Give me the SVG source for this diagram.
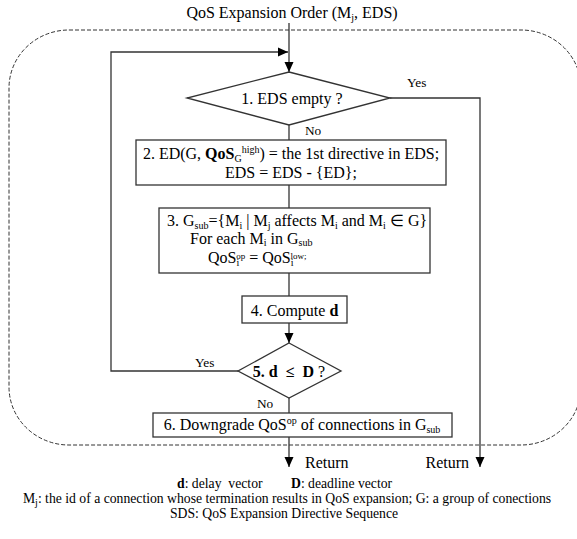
<svg xmlns="http://www.w3.org/2000/svg" width="577" height="539" viewBox="0 0 577 539">
<style>
text{font-family:"Liberation Serif","Times New Roman",serif;fill:#000;}
.t{font-size:16px;}
.s{font-size:13.3px;}
.lg{font-size:13.7px;}
.sm{font-size:10px;}
.xs{font-size:9px;}
.b{font-weight:bold;}
.box{fill:#fff;stroke:#333;stroke-width:1.3;}
.ln{fill:none;stroke:#333;stroke-width:1.3;}
.dash{fill:none;stroke:#333;stroke-width:1;stroke-dasharray:4 2;}
</style>
<defs>
<marker id="arr" markerUnits="userSpaceOnUse" markerWidth="10" markerHeight="10" viewBox="0 0 10 10" refX="10" refY="5" orient="auto">
<path d="M0,0.5 L10,5 L0,9.5 Z" fill="#000"/>
</marker>
</defs>
<rect class="dash" x="9" y="30" width="572" height="415" rx="60" ry="58"/>
<text class="t" x="292" y="18" text-anchor="middle">QoS Expansion Order (M<tspan class="sm" dy="3">j</tspan><tspan dy="-3">, EDS)</tspan></text>
<g id="connectors">
<line class="ln" x1="289" y1="23" x2="289" y2="72" marker-end="url(#arr)"/>
<polyline class="ln" points="238,371 111,371 111,52 288,52" marker-end="url(#arr)"/>
<polyline class="ln" points="390,98 480,98 480,467" marker-end="url(#arr)"/>
<line class="ln" x1="289" y1="125" x2="289" y2="140"/>
<line class="ln" x1="289" y1="185" x2="289" y2="208"/>
<line class="ln" x1="289" y1="273" x2="289" y2="296"/>
<line class="ln" x1="289" y1="323" x2="289" y2="343" marker-end="url(#arr)"/>
<line class="ln" x1="289" y1="398" x2="289" y2="413"/>
<line class="ln" x1="289" y1="437" x2="289" y2="467" marker-end="url(#arr)"/>
<text class="s" x="407" y="87">Yes</text>
<text class="s" x="305" y="135">No</text>
<text class="s" x="195" y="367">Yes</text>
<text class="s" x="257" y="408">No</text>
<text class="t" x="305" y="468">Return</text>
<text class="t" x="469" y="468" text-anchor="end">Return</text>
</g>
<g id="n1">
<polygon class="box" points="289,72 390,98 289,125 187,98"/>
<text class="t" x="292" y="104" text-anchor="middle">1. EDS empty ?</text>
</g>
<g id="n2">
<rect class="box" x="136" y="140" width="310" height="45"/>
<text class="t" x="291" y="159" text-anchor="middle">2. ED(G, <tspan class="b">QoS</tspan><tspan class="sm" dy="3">G</tspan><tspan class="sm" dy="-9">high</tspan><tspan dy="6">) = the 1st directive in EDS;</tspan></text>
<text class="t" x="291" y="178" text-anchor="middle">EDS = EDS - {ED};</text>
</g>
<g id="n3">
<rect class="box" x="159" y="208" width="271" height="65"/>
<text class="t" x="167" y="226">3. G<tspan class="sm" dy="3">sub</tspan><tspan dy="-3">={M</tspan><tspan class="sm" dy="3">i</tspan><tspan dy="-3"> | M</tspan><tspan class="sm" dy="3">j</tspan><tspan dy="-3"> affects M</tspan><tspan class="sm" dy="3">i</tspan><tspan dy="-3"> and M</tspan><tspan class="sm" dy="3">i</tspan><tspan dy="-3"> ∈ G}</tspan></text>
<text class="t" x="190" y="244">For each M<tspan class="sm" dy="2">i</tspan><tspan dy="-2"> in G</tspan><tspan class="sm" dy="2">sub</tspan></text>
<text class="t" x="208" y="263">QoS<tspan class="sm" dy="3">i</tspan><tspan class="xs" dx="-3" dy="-7">op</tspan><tspan dy="4"> = QoS</tspan><tspan class="sm" dy="3">i</tspan><tspan class="xs" dx="-3" dy="-7">low;</tspan></text>
</g>
<g id="n4">
<rect class="box" x="242" y="296" width="105" height="27"/>
<text class="t" x="294.5" y="316" text-anchor="middle">4. Compute <tspan class="b">d</tspan></text>
</g>
<g id="n5">
<polygon class="box" points="289,343 341,371 289,398 238,371"/>
<text class="t" x="289" y="377" text-anchor="middle" xml:space="preserve" style="white-space:pre"><tspan class="b">5. d  ≤  D</tspan> ?</text>
</g>
<g id="n6">
<rect class="box" x="153" y="413" width="299" height="24"/>
<text class="t" x="302" y="430" text-anchor="middle">6. Downgrade QoS<tspan class="sm" dy="-6">op</tspan><tspan dy="6"> of connections in G</tspan><tspan class="sm" dy="3">sub</tspan></text>
</g>
<g id="legend">
<text class="lg" x="177" y="488" xml:space="preserve" style="white-space:pre"><tspan class="b">d</tspan>: delay  vector</text>
<text class="lg" x="291" y="488"><tspan class="b">D</tspan>: deadline vector</text>
<text class="lg" x="287" y="503" text-anchor="middle">M<tspan class="sm" dy="3">j</tspan><tspan dy="-3">: the id of a connection whose termination results in QoS expansion; G: a group of conections</tspan></text>
<text class="lg" x="284" y="518" text-anchor="middle">SDS: QoS Expansion Directive Sequence</text>
</g>
</svg>
